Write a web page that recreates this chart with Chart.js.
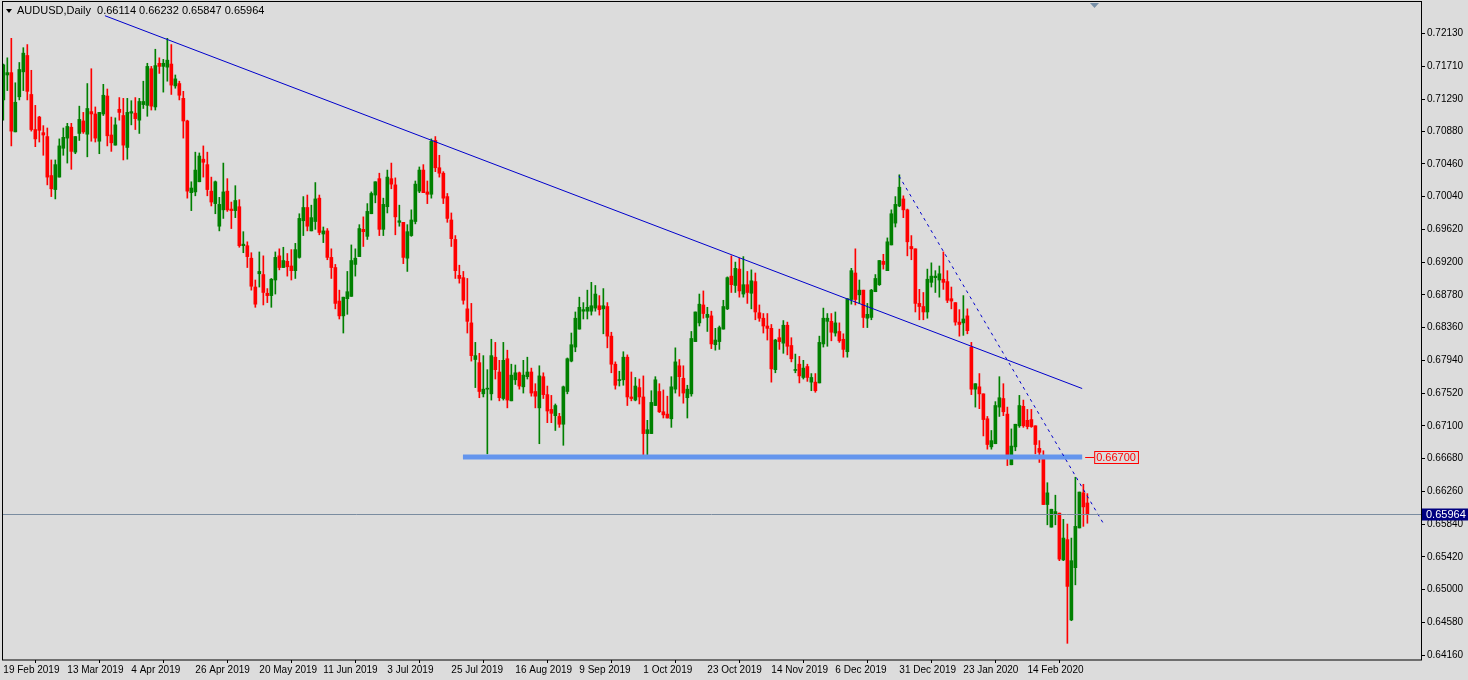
<!DOCTYPE html>
<html>
<head>
<meta charset="utf-8">
<script src="https://cdn.jsdelivr.net/npm/chart.js@4"></script>
<style>
  body { margin: 0; background: #dcdcdc; }
  #wrap { width: 1468px; height: 680px; }
</style>
</head>
<body>
<div id="wrap"><canvas id="c"></canvas></div>
<script>
const dateLabels = ['19 Feb 2019','13 Mar 2019','4 Apr 2019','26 Apr 2019','20 May 2019','11 Jun 2019','3 Jul 2019','25 Jul 2019','16 Aug 2019','9 Sep 2019','1 Oct 2019','23 Oct 2019','14 Nov 2019','6 Dec 2019','31 Dec 2019','23 Jan 2020','14 Feb 2020'];
const priceTicks = [0.72130,0.71710,0.71290,0.70880,0.70460,0.70040,0.69620,0.69200,0.68780,0.68360,0.67940,0.67520,0.67100,0.66680,0.66260,0.65840,0.65420,0.65000,0.64580,0.64160];

const opens = [.7128,.7160,.7163,.7087,.7132,.7164,.7185,.7135,.7090,.7106,.7086,.7081,.7031,.7013,.7029,.7066,.7079,.7093,.7061,.7085,
.7101,.7084,.7113,.7110,.7075,.7110,.7133,.7083,.7070,.7116,.7108,.7067,.7111,.7111,.7102,.7122,.7121,.7168,.7119,.7175,
.7171,.7170,.7174,.7146,.7149,.7130,.7101,.7009,.7010,.7023,.7052,.7045,.7011,.6995,.6966,.6987,.7011,.6988,.6986,.6991,
.6941,.6941,.6925,.6888,.6905,.6904,.6880,.6877,.6897,.6928,.6913,.6921,.6915,.6909,.6926,.6973,.6990,.6960,.6972,.7002,
.6956,.6960,.6926,.6913,.6870,.6851,.6873,.6876,.6917,.6927,.6962,.6953,.6982,.7006,.7027,.6962,.6991,.7027,.7019,.6971,
.6971,.6925,.6954,.6972,.7011,.7038,.7010,.7007,.7076,.7041,.7034,.7004,.6974,.6949,.6903,.6900,.6860,.6842,.6795,.6791,
.6751,.6757,.6751,.6798,.6779,.6745,.6796,.6742,.6769,.6778,.6760,.6773,.6779,.6754,.6733,.6773,.6750,.6731,.6723,.6722,
.6712,.6754,.6793,.6811,.6834,.6857,.6857,.6857,.6861,.6864,.6860,.6863,.6825,.6789,.6768,.6769,.6798,.6747,.6743,.6759,
.6747,.6700,.6700,.6736,.6754,.6728,.6725,.6719,.6757,.6787,.6771,.6746,.6751,.6818,.6842,.6865,.6849,.6851,.6814,.6818,
.6834,.6860,.6902,.6890,.6911,.6879,.6891,.6880,.6895,.6855,.6848,.6838,.6835,.6782,.6823,.6816,.6839,.6813,.6781,.6789,
.6772,.6786,.6766,.6766,.6765,.6815,.6844,.6844,.6829,.6831,.6821,.6805,.6872,.6906,.6878,.6884,.6848,.6849,.6882,.6891,
.6921,.6909,.6942,.6970,.6992,.7001,.6987,.6940,.6937,.6867,.6863,.6856,.6894,.6900,.6897,.6898,.6895,.6873,.6868,.6843,
.6842,.6851,.6811,.6757,.6760,.6751,.6719,.6683,.6687,.6734,.6745,.6725,.6660,.6683,.6710,.6735,.6717,.6718,.6710,.6681,
.6670,.6609,.6580,.6597,.6598,.6538,.6564,.6461,.6528,.6579,.6624,.6611];
const highs = [.7174,.7182,.7207,.7150,.7176,.7195,.7199,.7166,.7121,.7107,.7095,.7092,.7051,.7051,.7078,.7092,.7098,.7098,.7081,.7120,
.7112,.7149,.7168,.7119,.7112,.7148,.7142,.7106,.7105,.7131,.7130,.7130,.7127,.7131,.7130,.7152,.7175,.7171,.7193,.7182,
.7180,.7207,.7199,.7160,.7152,.7139,.7102,.7023,.7061,.7060,.7069,.7061,.7029,.7024,.7003,.7047,.7027,.6997,.7018,.7000,
.6959,.6946,.6932,.6897,.6933,.6928,.6886,.6899,.6933,.6937,.6939,.6931,.6936,.6944,.6982,.7004,.7006,.6993,.7022,.7006,
.6965,.6963,.6937,.6917,.6884,.6875,.6908,.6942,.6937,.6968,.6978,.6995,.7010,.7023,.7034,.7002,.7038,.7047,.7028,.6993,
.6971,.6968,.6987,.7024,.7042,.7045,.7024,.7078,.7081,.7057,.7036,.7008,.6983,.6954,.6916,.6908,.6899,.6867,.6817,.6803,
.6800,.6782,.6821,.6817,.6794,.6817,.6807,.6789,.6788,.6779,.6794,.6798,.6784,.6764,.6787,.6778,.6761,.6749,.6738,.6726,
.6761,.6797,.6829,.6856,.6875,.6868,.6884,.6894,.6890,.6877,.6886,.6868,.6830,.6792,.6780,.6805,.6801,.6779,.6772,.6770,
.6774,.6717,.6755,.6773,.6764,.6756,.6748,.6773,.6810,.6795,.6787,.6762,.6831,.6856,.6879,.6883,.6862,.6857,.6835,.6838,
.6871,.6901,.6928,.6920,.6925,.6927,.6908,.6910,.6906,.6865,.6854,.6854,.6840,.6821,.6834,.6845,.6843,.6823,.6802,.6799,
.6794,.6789,.6777,.6777,.6825,.6861,.6854,.6854,.6856,.6842,.6828,.6873,.6912,.6937,.6897,.6884,.6867,.6885,.6904,.6922,
.6930,.6951,.6987,.7004,.7032,.7005,.6988,.6954,.6937,.6885,.6881,.6911,.6919,.6909,.6915,.6933,.6909,.6888,.6868,.6859,
.6877,.6860,.6817,.6764,.6777,.6751,.6722,.6704,.6741,.6773,.6764,.6734,.6706,.6712,.6749,.6743,.6731,.6731,.6710,.6691,
.6678,.6637,.6603,.6621,.6598,.6590,.6584,.6566,.6644,.6625,.6635,.6623];
const lows = [.7102,.7140,.7069,.7087,.7128,.7140,.7128,.7088,.7068,.7074,.7057,.7019,.7004,.7001,.7029,.7057,.7047,.7039,.7059,.7076,
.7085,.7055,.7075,.7074,.7059,.7108,.7069,.7062,.7070,.7102,.7051,.7052,.7096,.7090,.7085,.7117,.7107,.7115,.7115,.7162,
.7138,.7152,.7135,.7143,.7128,.7079,.7002,.6986,.7005,.7023,.7029,.7005,.6992,.6982,.6960,.6976,.6985,.6963,.6977,.6939,
.6932,.6913,.6884,.6862,.6888,.6865,.6868,.6862,.6879,.6910,.6913,.6902,.6897,.6899,.6925,.6954,.6960,.6960,.6962,.6955,
.6945,.6923,.6899,.6860,.6847,.6829,.6853,.6876,.6902,.6927,.6940,.6949,.6982,.6996,.6954,.6954,.6983,.7014,.6955,.6966,
.6918,.6908,.6953,.6969,.7009,.7009,.6995,.7002,.7036,.7029,.6995,.6971,.6940,.6899,.6893,.6866,.6829,.6793,.6759,.6746,
.6747,.6674,.6743,.6770,.6742,.6743,.6733,.6742,.6763,.6757,.6752,.6770,.6748,.6733,.6687,.6745,.6714,.6714,.6704,.6708,
.6685,.6751,.6792,.6805,.6834,.6847,.6847,.6852,.6857,.6852,.6828,.6810,.6778,.6757,.6761,.6762,.6736,.6742,.6742,.6738,
.6668,.6668,.6700,.6736,.6727,.6720,.6720,.6708,.6752,.6748,.6739,.6720,.6748,.6818,.6838,.6848,.6831,.6809,.6807,.6808,
.6834,.6859,.6881,.6881,.6875,.6875,.6867,.6860,.6846,.6844,.6829,.6820,.6766,.6778,.6808,.6803,.6801,.6792,.6778,.6765,
.6770,.6767,.6755,.6753,.6765,.6811,.6812,.6819,.6825,.6817,.6798,.6798,.6866,.6865,.6867,.6836,.6836,.6846,.6882,.6890,
.6911,.6909,.6942,.6965,.6991,.6977,.6928,.6923,.6856,.6846,.6846,.6848,.6888,.6881,.6875,.6885,.6868,.6860,.6839,.6825,
.6826,.6828,.6750,.6734,.6732,.6697,.6680,.6680,.6687,.6722,.6723,.6659,.6660,.6678,.6708,.6708,.6706,.6708,.6674,.6663,
.6609,.6583,.6580,.6583,.6537,.6537,.6431,.6460,.6506,.6579,.6581,.6585];
const closes = [.7173,.7163,.7088,.7125,.7167,.7188,.7139,.7090,.7078,.7089,.7083,.7029,.7014,.7045,.7069,.7080,.7094,.7062,.7081,.7103,
.7087,.7117,.7110,.7079,.7112,.7134,.7082,.7073,.7096,.7112,.7070,.7112,.7113,.7104,.7126,.7126,.7171,.7120,.7172,.7171,
.7175,.7179,.7147,.7155,.7134,.7101,.7011,.7015,.7038,.7056,.7048,.7013,.6997,.7023,.6994,.7010,.6987,.6986,.6999,.6941,
.6943,.6927,.6889,.6866,.6908,.6881,.6877,.6898,.6926,.6913,.6922,.6914,.6909,.6936,.6976,.6990,.6966,.6977,.7001,.6958,
.6960,.6926,.6913,.6867,.6851,.6875,.6882,.6922,.6925,.6963,.6959,.6985,.7008,.7023,.6962,.6994,.7029,.7020,.6978,.6973,
.6926,.6959,.6974,.7020,.7038,.7009,.7007,.7075,.7041,.7034,.7002,.6976,.6950,.6909,.6899,.6871,.6844,.6800,.6800,.6754,
.6757,.6758,.6800,.6782,.6746,.6794,.6743,.6775,.6778,.6761,.6775,.6779,.6752,.6748,.6774,.6750,.6729,.6726,.6736,.6712,
.6760,.6796,.6814,.6848,.6862,.6859,.6862,.6864,.6879,.6859,.6864,.6825,.6789,.6762,.6769,.6798,.6747,.6745,.6761,.6747,
.6700,.6705,.6740,.6769,.6728,.6724,.6720,.6760,.6792,.6773,.6752,.6757,.6822,.6856,.6866,.6854,.6853,.6815,.6820,.6836,
.6863,.6900,.6891,.6912,.6883,.6891,.6881,.6896,.6856,.6848,.6838,.6835,.6783,.6820,.6818,.6839,.6812,.6796,.6782,.6774,
.6784,.6772,.6772,.6755,.6817,.6848,.6848,.6830,.6842,.6819,.6808,.6873,.6909,.6872,.6884,.6849,.6853,.6884,.6899,.6922,
.6917,.6946,.6982,.6994,.7016,.6987,.6946,.6937,.6867,.6863,.6856,.6898,.6902,.6902,.6905,.6894,.6871,.6870,.6843,.6840,
.6847,.6832,.6757,.6764,.6751,.6718,.6686,.6691,.6736,.6746,.6728,.6671,.6684,.6712,.6736,.6710,.6709,.6709,.6686,.6676,
.6609,.6624,.6603,.6600,.6539,.6566,.6504,.6537,.6581,.6625,.6606,.6596];

const lastQuote = { open: 0.66114, high: 0.66232, low: 0.65847, close: 0.65964 };
const levelPrice = 0.66700;
const trendMain = [[25.4, 0.7236], [269.7, 0.67578]];
const trendDotted = [[223.9, 0.70306], [274.9, 0.65856]];
const levelRange = [114.9, 269.7];

const BULL = '#008000';
const BEAR = '#ff0000';
const FONT = '"Liberation Sans", Arial, sans-serif';

const candleColors = opens.map((o, i) => closes[i] >= o ? BULL : BEAR);
const wickData = opens.map((o, i) => ({ x: i, y: [lows[i], highs[i]] }));
const bodyData = opens.map((o, i) => ({ x: i, y: [Math.min(o, closes[i]), Math.max(o, closes[i])] }));

const overlayPlugin = {
  id: 'overlay',
  beforeDraw(chart) {
    const ctx = chart.ctx;
    ctx.save();
    ctx.fillStyle = '#dcdcdc';
    ctx.fillRect(0, 0, chart.width, chart.height);
    ctx.restore();
  },
  afterDatasetsDraw(chart) {
    const { ctx, chartArea: a } = chart;
    const xs = chart.scales.x, ys = chart.scales.y;
    const px = v => xs.getPixelForValue(v), py = v => ys.getPixelForValue(v);
    ctx.save();

    // support level
    ctx.strokeStyle = '#6495ed';
    ctx.lineWidth = 5;
    ctx.beginPath();
    ctx.moveTo(px(levelRange[0]), py(levelPrice));
    ctx.lineTo(px(levelRange[1]), py(levelPrice));
    ctx.stroke();

    // trend lines
    ctx.strokeStyle = '#0000cc';
    ctx.lineWidth = 1;
    ctx.beginPath();
    ctx.moveTo(px(trendMain[0][0]), py(trendMain[0][1]));
    ctx.lineTo(px(trendMain[1][0]), py(trendMain[1][1]));
    ctx.stroke();
    ctx.setLineDash([3, 4]);
    ctx.beginPath();
    ctx.moveTo(px(trendDotted[0][0]), py(trendDotted[0][1]));
    ctx.lineTo(px(trendDotted[1][0]), py(trendDotted[1][1]));
    ctx.stroke();
    ctx.setLineDash([]);

    // level label
    const ly = Math.round(py(levelPrice)) + 0.5;
    const lx = px(levelRange[1]) + 3;
    ctx.strokeStyle = BEAR;
    ctx.beginPath();
    ctx.moveTo(lx, ly);
    ctx.lineTo(lx + 9, ly);
    ctx.stroke();
    ctx.font = '11px ' + FONT;
    const lt = levelPrice.toFixed(5);
    const lw = ctx.measureText(lt).width + 4;
    ctx.fillStyle = '#dcdcdc';
    ctx.fillRect(lx + 9, ly - 6, lw, 12);
    ctx.strokeRect(lx + 9.5, ly - 6, lw, 12);
    ctx.fillStyle = BEAR;
    ctx.textBaseline = 'middle';
    ctx.fillText(lt, lx + 11, ly);

    // current price
    const cy = Math.round(py(lastQuote.close)) + 0.5;
    ctx.strokeStyle = '#7a8ca0';
    ctx.beginPath();
    ctx.moveTo(a.left, cy);
    ctx.lineTo(a.right, cy);
    ctx.stroke();
    ctx.fillStyle = '#000080';
    ctx.fillRect(a.right + 1, cy - 6, 46, 12);
    ctx.fillStyle = '#ffffff';
    ctx.fillText(lastQuote.close.toFixed(5), a.right + 5, cy);

    // header
    ctx.fillStyle = '#000';
    ctx.beginPath();
    ctx.moveTo(6, 9); ctx.lineTo(12, 9); ctx.lineTo(9, 13); ctx.closePath();
    ctx.fill();
    ctx.fillText('AUDUSD,Daily  ' + [lastQuote.open, lastQuote.high, lastQuote.low, lastQuote.close].map(v => v.toFixed(5)).join(' '), 17, 11);

    // frame (drawn from the top edge of the window)
    ctx.strokeStyle = '#000';
    ctx.strokeRect(a.left + 0.5, 1.5, a.right - a.left, a.bottom - 1.5);
    ctx.fillStyle = '#7890a8';
    ctx.beginPath();
    ctx.moveTo(1090, 3); ctx.lineTo(1099, 3); ctx.lineTo(1094.5, 8); ctx.closePath();
    ctx.fill();
    ctx.restore();
  }
};

new Chart(document.getElementById('c'), {
  type: 'bar',
  data: {
    datasets: [
      { data: wickData, backgroundColor: candleColors, barThickness: 1, grouped: false, minBarLength: 1 },
      { data: bodyData, backgroundColor: candleColors, barThickness: 3, grouped: false, minBarLength: 1 }
    ]
  },
  options: {
    responsive: true,
    maintainAspectRatio: false,
    animation: false,
    layout: { padding: { left: 2, top: 0, right: 0, bottom: 0 } },
    plugins: { legend: { display: false }, tooltip: { enabled: false } },
    scales: {
      x: {
        type: 'linear',
        offset: false,
        min: -0.33,
        max: 354.4,
        afterBuildTicks: s => { s.ticks = dateLabels.map((d, i) => ({ value: i * 16 })); },
        afterFit: s => { s.height = 20; },
        grid: { drawOnChartArea: false, tickLength: 3, color: '#000' },
        border: { display: false },
        ticks: {
          align: 'start',
          maxRotation: 0,
          autoSkip: false,
          padding: 1,
          color: '#000',
          font: { family: FONT, size: 10 },
          callback: v => dateLabels[Math.round(v / 16)]
        }
      },
      y: {
        position: 'right',
        min: 0.64096,
        max: 0.72459,
        afterBuildTicks: s => { s.ticks = priceTicks.map(v => ({ value: v })); },
        afterFit: s => { s.width = 47; },
        grid: { drawOnChartArea: false, tickLength: 4, color: '#000' },
        border: { display: false },
        ticks: {
          padding: 2,
          color: '#000',
          font: { family: FONT, size: 10 },
          callback: v => v.toFixed(5)
        }
      }
    }
  },
  plugins: [overlayPlugin]
});
</script>
</body>
</html>
